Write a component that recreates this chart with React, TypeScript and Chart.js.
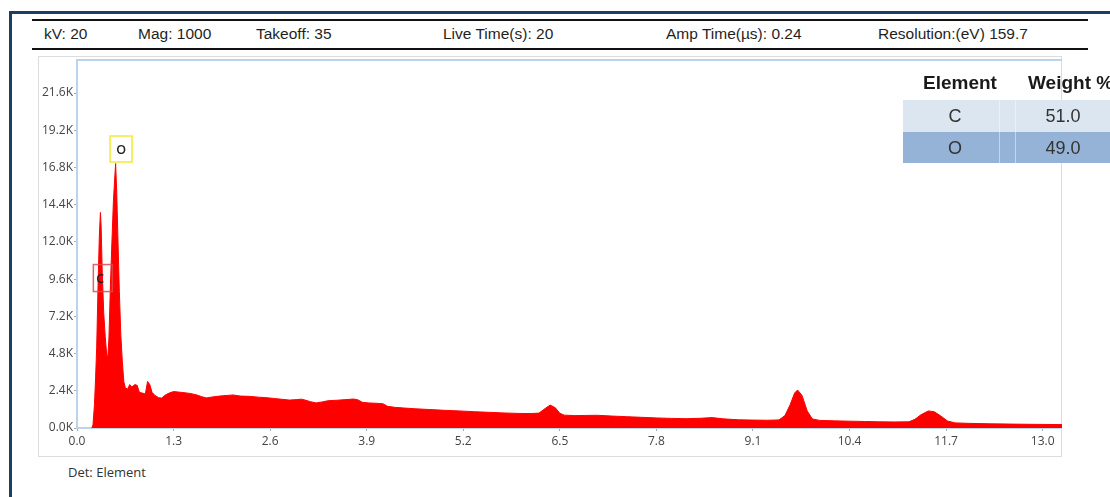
import React, { useEffect, useRef } from "react";
import { Chart, registerables } from "chart.js";

Chart.register(...registerables);

// ---- Data ----
const energyKeV = [
  0.2, 0.215, 0.235, 0.25, 0.265, 0.285, 0.3, 0.315, 0.325, 0.34, 0.36, 0.38, 0.4, 0.415, 0.43, 0.45, 0.47, 0.49, 0.51,
  0.52, 0.535, 0.55, 0.57, 0.59, 0.61, 0.63, 0.65, 0.68, 0.71, 0.74, 0.78, 0.81, 0.84, 0.88, 0.92, 0.95, 0.98, 1.01,
  1.05, 1.1, 1.14, 1.18, 1.24, 1.3, 1.36, 1.44, 1.52, 1.6, 1.68, 1.74, 1.82, 1.92, 2.02, 2.1, 2.2, 2.32, 2.44, 2.56,
  2.66, 2.76, 2.86, 2.96, 3.02, 3.08, 3.14, 3.22, 3.3, 3.38, 3.5, 3.62, 3.72, 3.78, 3.84, 3.92, 4.04, 4.12, 4.18, 4.28,
  4.4, 4.55, 4.75, 4.95, 5.15, 5.35, 5.55, 5.75, 5.95, 6.1, 6.22, 6.3, 6.37, 6.44, 6.5, 6.56, 6.7, 6.85, 7.0, 7.2, 7.4,
  7.6, 7.8, 8.0, 8.2, 8.4, 8.55, 8.7, 8.9, 9.1, 9.3, 9.45, 9.53, 9.6, 9.66, 9.7, 9.76, 9.83, 9.9, 10.0, 10.2, 10.4,
  10.6, 10.8, 11.0, 11.2, 11.28, 11.36, 11.46, 11.54, 11.62, 11.72, 11.82, 12.0, 12.3, 12.6, 12.9, 13.26,
];
const counts = [
  0, 200, 1500, 3200, 5200, 9500, 12300, 13900, 13000, 10000, 7400, 5900, 4700, 4600, 5800, 9200, 12000, 14600, 16300,
  17050, 15200, 12400, 8800, 6000, 4300, 3000, 2600, 2500, 2800, 2650, 2800, 2750, 2300, 2250, 2200, 3000, 2800, 2300,
  2100, 1950, 1930, 2100, 2250, 2350, 2320, 2280, 2230, 2150, 2020, 1940, 2000, 2060, 2100, 2130, 2060, 2040, 1990, 1950,
  1900, 1850, 1800, 1830, 1860, 1790, 1700, 1620, 1680, 1760, 1790, 1830, 1870, 1820, 1660, 1620, 1590, 1560, 1400, 1330,
  1290, 1240, 1190, 1140, 1100, 1050, 1010, 970, 940, 930, 960, 1250, 1480, 1300, 950, 830, 800, 810, 820, 770, 730,
  690, 650, 620, 600, 630, 670, 590, 530, 510, 500, 520, 800, 1500, 2250, 2450, 2100, 1100, 580, 490, 460, 440,
  420, 400, 390, 400, 560, 850, 1100, 1050, 800, 450, 330, 300, 270, 250, 235, 220,
];
const xTickValues = [0, 1.3, 2.6, 3.9, 5.2, 6.5, 7.8, 9.1, 10.4, 11.7, 13.0];
const yTickValues = [0, 2400, 4800, 7200, 9600, 12000, 14400, 16800, 19200, 21600];
const xMax = 13.26;
const yMax = 23730;

const peakNames = ["C", "O"];
const peakEnergy = [0.348, 0.593];
const peakCount = [9670, 17990];

const headerItems = ["kV: 20", "Mag: 1000", "Takeoff: 35", "Live Time(s): 20", "Amp Time(µs): 0.24", "Resolution:(eV) 159.7"];
const tableElements = ["C", "O"];
const tableWeights = ["51.0", "49.0"];

const SANS = "'Liberation Sans', Arial, sans-serif";
const OPEN = "'Open Sans', 'Noto Sans', sans-serif";

const peakBoxPlugin = {
  id: "peakBoxes",
  afterDatasetsDraw(chart: any) {
    const { ctx, scales } = chart;
    const styles = [
      { w: 19, h: 27, stroke: "rgba(225,70,70,0.85)" },
      { w: 22, h: 26, stroke: "#f2ea3a" },
    ];
    ctx.save();
    peakNames.forEach((name, i) => {
      const px = scales.x.getPixelForValue(peakEnergy[i]);
      const py = scales.y.getPixelForValue(peakCount[i]);
      const s = styles[i];
      ctx.lineWidth = 1.5;
      ctx.strokeStyle = s.stroke;
      ctx.strokeRect(px - s.w / 2, py - s.h / 2, s.w, s.h);
      ctx.fillStyle = "#222";
      ctx.font = "600 12.5px 'Open Sans', sans-serif";
      ctx.textAlign = i === 0 ? "left" : "center";
      ctx.textBaseline = "middle";
      ctx.fillText(name, i === 0 ? px - s.w / 2 + 3 : px, py + 1);
    });
    ctx.restore();
  },
};

export default function App() {
  const canvasRef = useRef<HTMLCanvasElement | null>(null);

  useEffect(() => {
    if (!canvasRef.current) return;
    const chart = new Chart(canvasRef.current, {
      type: "line",
      data: {
        datasets: [
          {
            data: energyKeV.map((x, i) => ({ x, y: counts[i] })),
            borderColor: "#ff0000",
            backgroundColor: "#ff0000",
            borderWidth: 1,
            pointRadius: 0,
            tension: 0,
            fill: "origin",
          },
        ],
      },
      options: {
        animation: false,
        responsive: false,
        maintainAspectRatio: false,
        layout: { padding: { top: 4, right: 0, bottom: 0, left: 0 } },
        plugins: { legend: { display: false }, tooltip: { enabled: false } },
        scales: {
          x: {
            type: "linear",
            min: 0,
            max: xMax,
            afterBuildTicks: (s: any) => {
              s.ticks = xTickValues.map((v) => ({ value: v }));
            },
            afterFit: (s: any) => {
              s.height = 28;
              s.paddingLeft = 0;
              s.paddingRight = 0;
            },
            ticks: {
              callback: (v: any) => Number(v).toFixed(1),
              font: { family: OPEN, size: 12 },
              color: "#444",
              padding: 3,
              maxRotation: 0,
              autoSkip: false,
            },
            grid: { drawOnChartArea: false, tickLength: 3, color: "#aaa" },
            border: { color: "#bcd4ea", width: 2 },
          },
          y: {
            type: "linear",
            min: 0,
            max: yMax,
            afterBuildTicks: (s: any) => {
              s.ticks = yTickValues.map((v) => ({ value: v }));
            },
            afterFit: (s: any) => {
              s.width = 39;
              s.paddingTop = 0;
              s.paddingBottom = 0;
            },
            ticks: {
              callback: (v: any) => (Number(v) / 1000).toFixed(1) + "K",
              font: { family: OPEN, size: 12 },
              color: "#444",
              padding: 1,
              autoSkip: false,
            },
            grid: { drawOnChartArea: false, tickLength: 3, color: "#aaa" },
            border: { color: "#bcd4ea", width: 2 },
          },
        },
      },
      plugins: [
        peakBoxPlugin,
        {
          id: "topBorder",
          afterDraw(chart: any) {
            const { ctx, chartArea } = chart;
            ctx.save();
            ctx.strokeStyle = "#bcd4ea";
            ctx.lineWidth = 2;
            ctx.beginPath();
            ctx.moveTo(chartArea.left - 1, chartArea.top);
            ctx.lineTo(chartArea.right, chartArea.top);
            ctx.stroke();
            ctx.restore();
          },
        },
      ],
    } as any);
    return () => chart.destroy();
  }, []);

  const headerX = [44, 138, 256, 443, 666, 878];

  return (
    <div
      style={{
        position: "absolute",
        left: 0,
        top: 0,
        width: 1110,
        height: 497,
        overflow: "hidden",
        background: "#fff",
      }}
    >
      <div
        style={{
          position: "absolute",
          left: 9,
          top: 11,
          width: 1300,
          height: 700,
          border: "3px solid #1d3d63",
          boxSizing: "border-box",
        }}
      />
      <div style={{ position: "absolute", left: 32, top: 19, width: 1056, height: 2, background: "#111" }} />
      <div style={{ position: "absolute", left: 32, top: 48, width: 1056, height: 2, background: "#111" }} />
      {headerItems.map((t, i) => (
        <div
          key={t}
          style={{
            position: "absolute",
            left: headerX[i],
            top: 25,
            font: `15.5px ${SANS}`,
            lineHeight: "18px",
            color: "#1f1f1f",
            whiteSpace: "nowrap",
          }}
        >
          {t}
        </div>
      ))}
      <div
        style={{
          position: "absolute",
          left: 38,
          top: 56,
          width: 1024,
          height: 401,
          border: "1.5px solid #dcdcdc",
          boxSizing: "border-box",
        }}
      />
      <canvas
        ref={canvasRef}
        width={1024}
        height={400}
        style={{ position: "absolute", left: 38, top: 56, width: 1024, height: 400 }}
      />
      {/* Results table */}
      <div
        style={{
          position: "absolute",
          left: 903,
          top: 72,
          width: 114,
          textAlign: "center",
          font: `bold 19px ${SANS}`,
          lineHeight: "22px",
          color: "#1a1a1a",
        }}
      >
        Element
      </div>
      <div
        style={{
          position: "absolute",
          left: 1028,
          top: 72,
          font: `bold 19px ${SANS}`,
          lineHeight: "22px",
          color: "#1a1a1a",
          whiteSpace: "nowrap",
        }}
      >
        Weight %
      </div>
      {tableElements.map((el, i) => (
        <div
          key={el}
          style={{
            position: "absolute",
            left: 903,
            top: 100 + i * 31.5,
            width: 300,
            height: 31.5,
            background: i === 0 ? "#dce6f1" : "#95b3d7",
          }}
        >
          <div style={{ position: "absolute", left: 96, top: 0, width: 1, height: "100%", background: "rgba(255,255,255,0.45)" }} />
          <div style={{ position: "absolute", left: 112, top: 0, width: 1, height: "100%", background: "rgba(255,255,255,0.45)" }} />
          <div
            style={{
              position: "absolute",
              left: 22,
              top: 0,
              width: 60,
              textAlign: "center",
              font: `18px ${SANS}`,
              lineHeight: "32px",
              color: "#333",
            }}
          >
            {el}
          </div>
          <div
            style={{
              position: "absolute",
              left: 130,
              top: 0,
              width: 60,
              textAlign: "center",
              font: `18px ${SANS}`,
              lineHeight: "32px",
              color: "#333",
            }}
          >
            {tableWeights[i]}
          </div>
        </div>
      ))}
      <div
        style={{
          position: "absolute",
          left: 68,
          top: 463,
          font: `13px ${OPEN}`,
          lineHeight: "18px",
          color: "#333",
          whiteSpace: "nowrap",
        }}
      >
        Det: Element
      </div>
    </div>
  );
}
